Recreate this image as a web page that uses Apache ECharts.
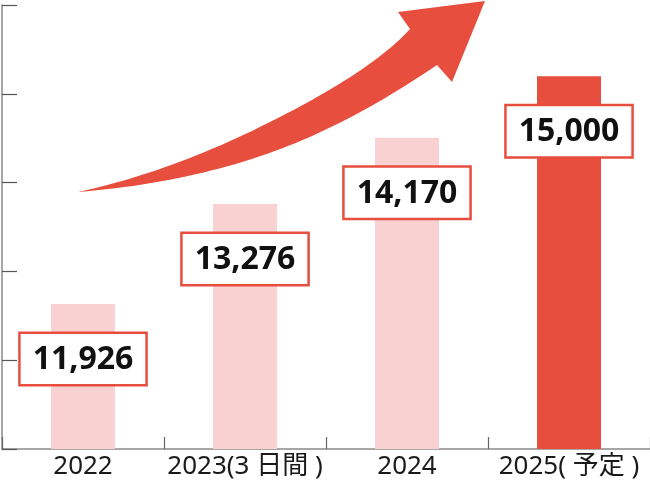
<!DOCTYPE html>
<html>
<head>
<meta charset="utf-8">
<script src="https://cdn.jsdelivr.net/npm/echarts@6/dist/echarts.min.js"></script>
<style>html,body{margin:0;padding:0;background:#fff}#c{width:650px;height:489px}</style>
</head>
<body>
<div id="c"></div>
<script>
const categories = ['2022', '2023(3 日間 )', '2024', '2025( 予定 )'];
const values = [11926, 13276, 14170, 15000];
const highlight = [false, false, false, true];

const RED = '#e84e3e';
const PALE = '#f8d1d0';

// decorative arrow outline (quadratic curve segments, sampled into a polygon)
function quad(p0, c, p1, n) {
  const pts = [];
  for (let i = 1; i <= n; i++) {
    const t = i / n, u = 1 - t;
    pts.push([u*u*p0[0] + 2*u*t*c[0] + t*t*p1[0], u*u*p0[1] + 2*u*t*c[1] + t*t*p1[1]]);
  }
  return pts;
}
const arrowPts = [[78,192]]
  .concat(quad([78,192],[171,172],[270,122],24))
  .concat(quad([270,122],[372,71],[410,29],24))
  .concat([[398,12],[485,1],[452,82],[437,65]])
  .concat(quad([437,65],[356,120],[283,148],24))
  .concat(quad([283,148],[191,183],[78,192],24));

const chart = echarts.init(document.getElementById('c'), null, {renderer: 'canvas'});
chart.setOption({
  animation: false,
  backgroundColor: '#fff',
  grid: {left: 2, right: 0, top: 5, bottom: 40, containLabel: false},
  xAxis: {
    type: 'category',
    data: categories,
    boundaryGap: true,
    axisLine: {show: true, lineStyle: {color: '#8a8a8a', width: 1.5}},
    axisTick: {show: true, inside: true, length: 12, lineStyle: {color: '#666', width: 1.2}},
    axisLabel: {
      interval: 0, hideOverlap: false,
      color: '#1a1a1a', fontSize: 26,
      fontFamily: '"Noto Sans", "Noto Sans CJK JP", sans-serif', margin: 5
    }
  },
  yAxis: [
    {
      type: 'value', min: 9970, max: 15960, show: false
    },
    {
      type: 'value', min: 0, max: 5, interval: 1, position: 'left',
      axisLine: {show: true, lineStyle: {color: '#8a8a8a', width: 1.5}},
      axisTick: {show: true, inside: true, length: 15, lineStyle: {color: '#555', width: 1.2}},
      axisLabel: {show: false},
      splitLine: {show: false}
    }
  ],
  graphic: [{
    type: 'polygon',
    shape: {points: arrowPts},
    style: {fill: RED},
    z: 10
  }],
  series: [{
    type: 'bar',
    yAxisIndex: 0,
    barWidth: 64,
    data: values.map((v, i) => ({value: v, itemStyle: {color: highlight[i] ? RED : PALE}})),
    label: {
      show: true,
      position: 'insideTop',
      distance: 30,
      formatter: p => p.value.toLocaleString('en-US'),
      fontSize: 32,
      fontWeight: 'bold',
      fontFamily: '"Noto Sans", sans-serif',
      color: '#111',
      backgroundColor: '#fff',
      borderColor: RED,
      borderWidth: 2.5,
      padding: [8, 12, 6, 12],
      lineHeight: 36
    }
  }]
});
</script>
</body>
</html>
